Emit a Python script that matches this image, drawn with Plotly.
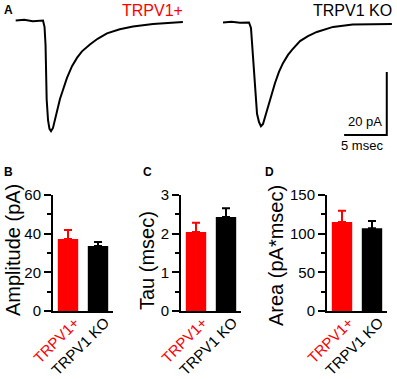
import plotly.graph_objects as go

# ---------------- data ----------------
groups = ["TRPV1+", "TRPV1 KO"]
group_colors = ["#ff0000", "#000000"]

amplitude_mean = [37.2, 33.6]
amplitude_sem = [4.7, 2.1]
tau_mean = [2.04, 2.43]
tau_sem = [0.24, 0.23]
area_mean = [115, 107]
area_sem = [14.7, 9.4]

# example traces (time in msec, current in pA)
trpv1_t = [0, 1.0, 2.0, 3.2, 3.38, 3.5, 3.63, 3.79, 3.96, 4.14, 4.37, 4.6, 4.84, 5.19,
           5.55, 6.0, 6.6, 7.2, 7.77, 8.7, 9.6, 10.7, 12.2, 13.75, 16.1, 19.6]
trpv1_i = [0, 0.2, -0.2, 0, -2.0, -7.8, -25.0, -31.6, -34.4, -35.1, -34.1, -31.3, -29.0, -24.9,
           -22.0, -18.3, -14.5, -11.8, -9.8, -7.6, -5.8, -4.1, -2.8, -1.9, -1.1, -0.5]
ko_t = [0, 1.0, 2.0, 3.05, 3.28, 3.46, 3.63, 3.81, 3.99, 4.22, 4.45, 4.69, 4.92, 5.28,
        5.63, 6.1, 6.56, 7.03, 7.62, 8.09, 9.03, 9.96, 11.0, 12.9, 15.2, 17.5, 19.8]
ko_i = [0, 0.2, -0.1, 0, -1.7, -8.7, -18.3, -24.6, -29.0, -31.6, -32.9, -32.2, -30.0, -26.8,
        -23.3, -19.2, -15.7, -12.9, -10.3, -8.7, -5.9, -4.3, -3.0, -1.4, -0.6, -0.5, -0.5]

scale_pA = 20
scale_ms = 5
scale_anchor_t = 19.2
scale_anchor_i = -35.7

W, H = 397, 379
font = "Arial, Liberation Sans, sans-serif"


def px(x):
    return x / W


def py(y):
    return 1 - y / H


fig = go.Figure()

# ---------------- panel A traces ----------------
fig.add_trace(go.Scatter(x=trpv1_t, y=trpv1_i, mode="lines",
                         line=dict(color="black", width=2), xaxis="x4", yaxis="y4",
                         showlegend=False))
fig.add_trace(go.Scatter(x=ko_t, y=ko_i, mode="lines",
                         line=dict(color="black", width=2), xaxis="x5", yaxis="y5",
                         showlegend=False))
# scale bar
fig.add_trace(go.Scatter(
    x=[scale_anchor_t, scale_anchor_t, scale_anchor_t - scale_ms],
    y=[scale_anchor_i + scale_pA, scale_anchor_i, scale_anchor_i],
    mode="lines", line=dict(color="black", width=2), xaxis="x5", yaxis="y5",
    showlegend=False))

# ---------------- bar panels ----------------
panels = [
    (amplitude_mean, amplitude_sem, "", 53, [0, 60], 20, 10),
    (tau_mean, tau_sem, "2", 181, [0, 3], 1, 0.5),
    (area_mean, area_sem, "3", 327, [0, 150], 50, 25),
]

for means, sems, suf, x0, yr, dt, mdt in panels:
    for k in range(2):
        fig.add_trace(go.Bar(
            x=[groups[k]], y=[means[k]], width=0.68,
            marker=dict(color=group_colors[k], line=dict(width=0)),
            error_y=dict(type="data", array=[sems[k]], arrayminus=[0], symmetric=False,
                         color=group_colors[k], thickness=2, width=4),
            xaxis="x" + suf, yaxis="y" + suf, showlegend=False))

layout = dict(
    template="none",
    width=W, height=H, margin=dict(l=0, r=0, t=0, b=0, pad=0, autoexpand=False),
    paper_bgcolor="white", plot_bgcolor="white",
    font=dict(family=font, color="black"),
    showlegend=False,
)

top, bot = 195, 311
for means, sems, suf, x0, yr, dt, mdt in panels:
    xa = "xaxis" + suf
    ya = "yaxis" + suf
    layout[xa] = dict(domain=[px(x0), px(x0 + 60)], anchor="y" + suf,
                      type="category", range=[-0.5, 1.5], showline=True,
                      linecolor="black", linewidth=2, ticks="", tickangle=-45,
                      tickvals=groups,
                      ticktext=["<span style='color:#ff0000'>TRPV1+</span>", "TRPV1 KO"],
                      ticklabelshift=7, ticklabelstandoff=-5,
                      tickfont=dict(size=15, family=font, color="black"),
                      showgrid=False, zeroline=False, automargin=False, fixedrange=True)
    layout[ya] = dict(domain=[py(bot), py(top)], anchor="x" + suf, range=yr,
                      dtick=dt, tick0=0, showline=True, linecolor="black", linewidth=2,
                      ticks="outside", ticklen=7, tickwidth=2, tickcolor="black",
                      minor=dict(ticks="outside", ticklen=4, tickwidth=1.5,
                                 dtick=mdt, tickcolor="black"),
                      tickfont=dict(size=15, family=font, color="black"),
                      showgrid=False, zeroline=False, automargin=False, fixedrange=True)

# trace axes (panel A)
sx, sy = 8.53, 3.15
layout["xaxis4"] = dict(domain=[0, px(198)], anchor="y4", automargin=False,
                        range=[-15.7 / sx, (198 - 15.7) / sx], visible=False)
layout["yaxis4"] = dict(domain=[py(150), 1], anchor="x4", automargin=False,
                        range=[-(150 - 20.5) / sy, 20.5 / sy], visible=False)
layout["xaxis5"] = dict(domain=[px(198), 1], anchor="y5", automargin=False,
                        range=[(198 - 223) / sx, (397 - 223) / sx], visible=False)
layout["yaxis5"] = dict(domain=[py(150), 1], anchor="x5", automargin=False,
                        range=[-(150 - 22.5) / sy, 22.5 / sy], visible=False)

fig.update_layout(**layout)

ann = []
# panel letters
for letter, x, y in [("A", 8, 10), ("B", 8, 172), ("C", 147, 172), ("D", 269, 172)]:
    ann.append(dict(text="<b>%s</b>" % letter, x=px(x), y=py(y), xref="paper", yref="paper",
                    showarrow=False, font=dict(size=12, family=font, color="black"),
                    xanchor="center", yanchor="middle"))
# group titles
ann.append(dict(text="TRPV1+", x=px(152), y=py(10), xref="paper", yref="paper",
                showarrow=False, font=dict(size=16, family=font, color="#ff0000"),
                xanchor="center", yanchor="middle"))
ann.append(dict(text="TRPV1 KO", x=px(352), y=py(10), xref="paper", yref="paper",
                showarrow=False, font=dict(size=16, family=font, color="black"),
                xanchor="center", yanchor="middle"))
# scale labels
ann.append(dict(text="%d pA" % scale_pA, x=scale_anchor_t - 2.5, y=scale_anchor_i + 4.2,
                xref="x5", yref="y5", showarrow=False,
                font=dict(size=13, family=font, color="black"),
                xanchor="center", yanchor="middle"))
ann.append(dict(text="%d msec" % scale_ms, x=scale_anchor_t - 2.9, y=scale_anchor_i - 3.2,
                xref="x5", yref="y5", showarrow=False,
                font=dict(size=13, family=font, color="black"),
                xanchor="center", yanchor="middle"))
# y titles
for text, x, y in [("Amplitude (pA)", 13, 250), ("Tau (msec)", 147, 261),
                   ("Area (pA*msec)", 276, 256)]:
    ann.append(dict(text=text, x=px(x), y=py(y), xref="paper", yref="paper",
                    showarrow=False, textangle=-90,
                    font=dict(size=20, family=font, color="black"),
                    xanchor="center", yanchor="middle"))

fig.update_layout(annotations=ann)
fig.write_html("out.html", config={"displayModeBar": False},
               post_script="document.body.style.margin='0';document.body.style.overflow='hidden';")
